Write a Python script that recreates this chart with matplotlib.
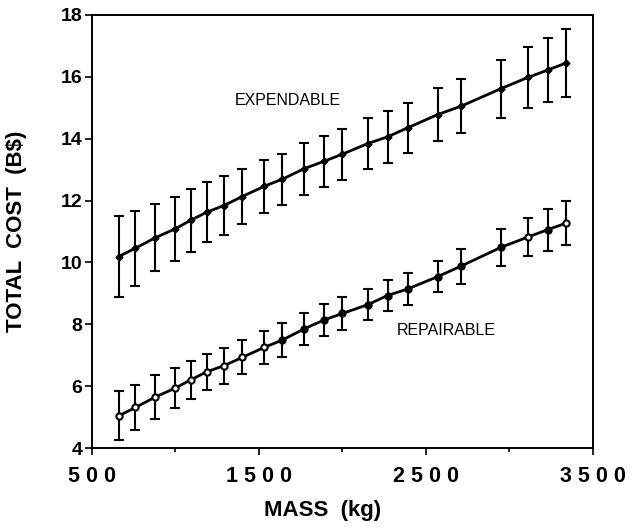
import matplotlib
matplotlib.use("Agg")
import matplotlib.pyplot as plt
from matplotlib.ticker import MultipleLocator

# masses (kg), both series share them
mass = [660, 760, 880, 1000, 1090, 1190, 1290, 1400, 1530, 1640, 1770,
        1890, 2000, 2150, 2270, 2390, 2570, 2710, 2950, 3110, 3230, 3340]

exp_cost = [10.19, 10.46, 10.80, 11.09, 11.36, 11.63, 11.84, 12.13, 12.46,
            12.69, 13.03, 13.27, 13.50, 13.84, 14.06, 14.35, 14.78, 15.05,
            15.62, 15.98, 16.22, 16.45]
exp_err = [1.30, 1.21, 1.09, 1.04, 1.01, 0.96, 0.94, 0.88, 0.85, 0.83, 0.84,
           0.82, 0.82, 0.82, 0.85, 0.81, 0.87, 0.87, 0.94, 0.99, 1.02, 1.10]

rep_cost = [5.04, 5.31, 5.65, 5.94, 6.20, 6.47, 6.66, 6.93, 7.25, 7.49, 7.85,
            8.14, 8.35, 8.63, 8.93, 9.14, 9.54, 9.88, 10.49, 10.82, 11.06, 11.27]
rep_err = [0.79, 0.72, 0.70, 0.66, 0.62, 0.58, 0.58, 0.55, 0.52, 0.54, 0.51,
           0.52, 0.52, 0.50, 0.51, 0.51, 0.51, 0.57, 0.59, 0.61, 0.68, 0.70]
# open (True) or filled (False) marker on the repairable curve
rep_open = [True, True, True, True, True, True, True, True, True, False, False,
            False, False, False, False, False, False, False, False, True, False, True]

xticks = [500, 1500, 2500, 3500]
yticks = [4, 6, 8, 10, 12, 14, 16, 18]

plt.rcParams["font.family"] = ["Liberation Sans", "DejaVu Sans"]

fig = plt.figure(figsize=(6.41, 5.31), dpi=100)
ax = fig.add_axes([0.1435, 0.1563, 0.7815, 0.8155])

ax.errorbar(mass, exp_cost, yerr=exp_err, color="black", lw=2,
            elinewidth=1.5, capsize=3.5, capthick=1.5, marker="D", ms=3.5)
ax.errorbar(mass, rep_cost, yerr=rep_err, color="black", lw=2,
            elinewidth=1.5, capsize=3.5, capthick=1.5, fmt="-")
for m, c, o in zip(mass, rep_cost, rep_open):
    ax.plot(m, c, marker="o", ms=4.5, mew=1.5, color="black",
            mfc="white" if o else "black", zorder=5)

ax.text(1670, 15.25, "EXPENDABLE", fontsize=11.5, ha="center", va="center")
ax.text(2620, 7.79, "REPAIRABLE", fontsize=11.5, ha="center", va="center")

ax.set_xlim(500, 3500)
ax.set_ylim(4, 18)
ax.set_xticks(xticks)
ax.set_xticklabels([" ".join(str(t)) for t in xticks], fontsize=15.5, fontweight="bold")
ax.xaxis.set_minor_locator(MultipleLocator(500))
ax.set_yticks(yticks)
ax.set_yticklabels([str(t) for t in yticks], fontsize=14, fontweight="bold")
ax.tick_params(axis="both", which="major", direction="out", length=5, width=1.2)
ax.tick_params(axis="x", which="major", pad=8)
ax.tick_params(axis="y", which="major", pad=2)
ax.tick_params(axis="x", which="minor", direction="out", length=3, width=1.2)

for s in ax.spines.values():
    s.set_linewidth(1.4)

ax.set_xlabel("MASS  (kg)", fontsize=16, fontweight="bold")
ax.set_ylabel("TOTAL  COST  (B$)", fontsize=16, fontweight="bold")
ax.xaxis.set_label_coords(0.46, -0.12)
ax.yaxis.set_label_coords(-0.13, 0.5)

fig.savefig("out.png", dpi=100)
